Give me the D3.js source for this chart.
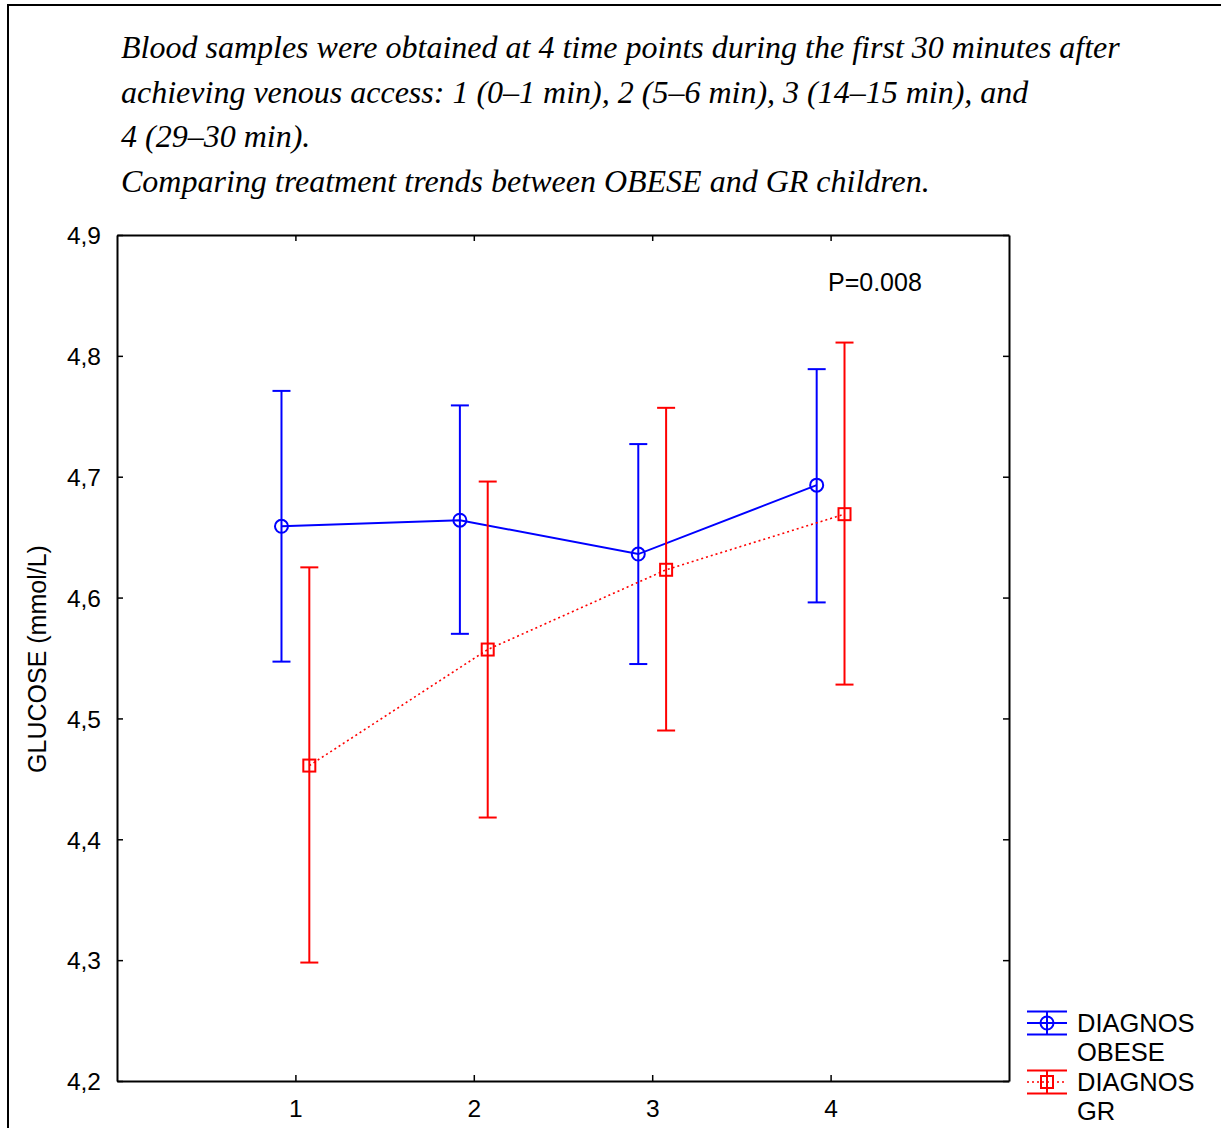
<!DOCTYPE html>
<html>
<head>
<meta charset="utf-8">
<script src="https://cdn.jsdelivr.net/npm/d3@7"></script>
<style>
  html, body { margin: 0; padding: 0; background: #fff; }
  svg { display: block; }
</style>
</head>
<body>
<svg id="chart" width="1221" height="1128"></svg>
<script>
// Time points and group summaries (mean with error-bar limits), glucose in mmol/L
const timePoints = [1, 2, 3, 4];
const obeseMean  = [4.659, 4.664, 4.636, 4.693];
const obeseLow   = [4.547, 4.570, 4.545, 4.596];
const obeseHigh  = [4.771, 4.759, 4.727, 4.789];
const grMean     = [4.461, 4.557, 4.623, 4.669];
const grLow      = [4.298, 4.418, 4.490, 4.528];
const grHigh     = [4.625, 4.696, 4.757, 4.811];
const yTicks     = [4.2, 4.3, 4.4, 4.5, 4.6, 4.7, 4.8, 4.9];
const titleLines = [
  "Blood samples were obtained at 4 time points during the first 30 minutes after",
  "achieving venous access: 1 (0\u20131 min), 2 (5\u20136 min), 3 (14\u201315 min), and",
  "4 (29\u201330 min).",
  "Comparing treatment trends between OBESE and GR children."
];

const svg = d3.select("#chart");
const plot = { left: 117, top: 235, right: 1009, bottom: 1081 };

// Outer frame (extends past the right and bottom edges)
svg.append("rect")
  .attr("x", 8).attr("y", 5).attr("width", 1240).attr("height", 1150)
  .attr("fill", "none").attr("stroke", "#000").attr("stroke-width", 2);

// Caption
svg.append("g").selectAll("text").data(titleLines).join("text")
  .attr("x", 121)
  .attr("y", (d, i) => 58 + i * 44.5)
  .attr("font-family", "'Liberation Serif', serif")
  .attr("font-style", "italic")
  .attr("font-size", 32)
  .attr("fill", "#000")
  .text(d => d);

const x = d3.scaleLinear().domain([0, 5]).range([plot.left, plot.right]);
const y = d3.scaleLinear().domain([4.2, 4.9]).range([plot.bottom, plot.top]);
const fmt = d => d3.format(".1f")(d).replace(".", ",");

const font = "'Liberation Sans', Arial, sans-serif";
const fs = 24.5;

// Axes: ticks point inward on all four sides
const axL = svg.append("g").attr("transform", `translate(${plot.left},0)`)
  .call(d3.axisLeft(y).tickValues(yTicks).tickFormat(fmt).tickSizeInner(-6).tickSizeOuter(0).tickPadding(16));
const axR = svg.append("g").attr("transform", `translate(${plot.right},0)`)
  .call(d3.axisRight(y).tickValues(yTicks).tickFormat("").tickSizeInner(-6).tickSizeOuter(0));
const axB = svg.append("g").attr("transform", `translate(0,${plot.bottom})`)
  .call(d3.axisBottom(x).tickValues(timePoints).tickFormat(d3.format("d")).tickSizeInner(-6).tickSizeOuter(0).tickPadding(19));
const axT = svg.append("g").attr("transform", `translate(0,${plot.top})`)
  .call(d3.axisTop(x).tickValues(timePoints).tickFormat("").tickSizeInner(-6).tickSizeOuter(0));
[axL, axR, axB, axT].forEach(g => {
  g.attr("font-size", fs).attr("font-family", font);
  g.select(".domain").attr("stroke", "#000").attr("stroke-width", 2);
  g.selectAll(".tick line").attr("stroke", "#000").attr("stroke-width", 1.5);
  g.selectAll("text").attr("font-family", font).attr("font-size", fs).attr("fill", "#000");
});
axL.selectAll(".tick text").attr("dy", "0.36em");
axB.selectAll(".tick text").attr("dy", "0.71em");

// Y axis title
svg.append("text")
  .attr("transform", `translate(46,${(plot.top + plot.bottom) / 2 + 1}) rotate(-90)`)
  .attr("text-anchor", "middle")
  .attr("font-family", font).attr("font-size", 25).attr("fill", "#000")
  .text("GLUCOSE (mmol/L)");

// P value annotation
svg.append("text")
  .attr("x", 828).attr("y", 291)
  .attr("font-family", font).attr("font-size", 25).attr("fill", "#000")
  .text("P=0.008");

// Series drawing
const series = [
  { name: "OBESE", color: "#0000ff", offset: -0.078, mean: obeseMean, low: obeseLow, high: obeseHigh, dash: null, width: 2, marker: "circle" },
  { name: "GR", color: "#ff0000", offset: 0.078, mean: grMean, low: grLow, high: grHigh, dash: "2,3", width: 1.6, marker: "square" }
];

const cap = 9;
const half = 6;
series.forEach(s => {
  const g = svg.append("g");
  const pts = timePoints.map((t, i) => ({ t, m: s.mean[i], lo: s.low[i], hi: s.high[i] }));
  const px = d => x(d.t + s.offset);

  // connecting line
  g.append("path")
    .datum(pts)
    .attr("fill", "none")
    .attr("stroke", s.color)
    .attr("stroke-width", s.width)
    .attr("stroke-dasharray", s.dash)
    .attr("d", d3.line().x(px).y(d => y(d.m)));

  // error bars
  const eb = g.selectAll("g.eb").data(pts).join("g").attr("class", "eb")
    .attr("stroke", s.color).attr("stroke-width", 2);
  eb.append("line").attr("x1", px).attr("x2", px).attr("y1", d => y(d.lo)).attr("y2", d => y(d.hi));
  eb.append("line").attr("x1", d => px(d) - cap).attr("x2", d => px(d) + cap).attr("y1", d => y(d.hi)).attr("y2", d => y(d.hi));
  eb.append("line").attr("x1", d => px(d) - cap).attr("x2", d => px(d) + cap).attr("y1", d => y(d.lo)).attr("y2", d => y(d.lo));

  // markers
  if (s.marker === "circle") {
    g.selectAll("circle").data(pts).join("circle")
      .attr("cx", px).attr("cy", d => y(d.m)).attr("r", 6.5)
      .attr("fill", "none").attr("stroke", s.color).attr("stroke-width", 2);
  } else {
    g.selectAll("rect").data(pts).join("rect")
      .attr("x", d => px(d) - half).attr("y", d => y(d.m) - half)
      .attr("width", half * 2).attr("height", half * 2)
      .attr("fill", "none").attr("stroke", s.color).attr("stroke-width", 2);
  }
});

// Legend
const legend = svg.append("g");
const legItems = [
  { s: series[0], cy: 1023, lines: ["DIAGNOS", "OBESE"] },
  { s: series[1], cy: 1082, lines: ["DIAGNOS", "GR"] }
];
legItems.forEach(it => {
  const g = legend.append("g").attr("stroke", it.s.color).attr("fill", "none");
  const x0 = 1027, x1 = 1067, xc = 1047;
  g.append("line").attr("x1", x0).attr("x2", x1).attr("y1", it.cy - 11.5).attr("y2", it.cy - 11.5).attr("stroke-width", 2);
  g.append("line").attr("x1", x0).attr("x2", x1).attr("y1", it.cy + 11.5).attr("y2", it.cy + 11.5).attr("stroke-width", 2);
  g.append("line").attr("x1", x0).attr("x2", x1).attr("y1", it.cy).attr("y2", it.cy)
    .attr("stroke-width", it.s.width).attr("stroke-dasharray", it.s.dash);
  g.append("line").attr("x1", xc).attr("x2", xc).attr("y1", it.cy - 11.5).attr("y2", it.cy + 11.5).attr("stroke-width", 2);
  if (it.s.marker === "circle") {
    g.append("circle").attr("cx", xc).attr("cy", it.cy).attr("r", 6.5).attr("fill", "#fff").attr("stroke-width", 2);
    g.append("line").attr("x1", xc).attr("x2", xc).attr("y1", it.cy - 6.5).attr("y2", it.cy + 6.5).attr("stroke-width", 2);
    g.append("line").attr("x1", xc - 6.5).attr("x2", xc + 6.5).attr("y1", it.cy).attr("y2", it.cy).attr("stroke-width", 2);
  } else {
    g.append("rect").attr("x", xc - half).attr("y", it.cy - half).attr("width", half * 2).attr("height", half * 2).attr("fill", "none").attr("stroke-width", 2);
  }
  legend.append("g").selectAll("text").data(it.lines).join("text")
    .attr("x", 1077)
    .attr("y", (d, i) => it.cy + 9 + i * 29)
    .attr("font-family", font).attr("font-size", 25.5).attr("fill", "#000")
    .text(d => d);
});
</script>
</body>
</html>
